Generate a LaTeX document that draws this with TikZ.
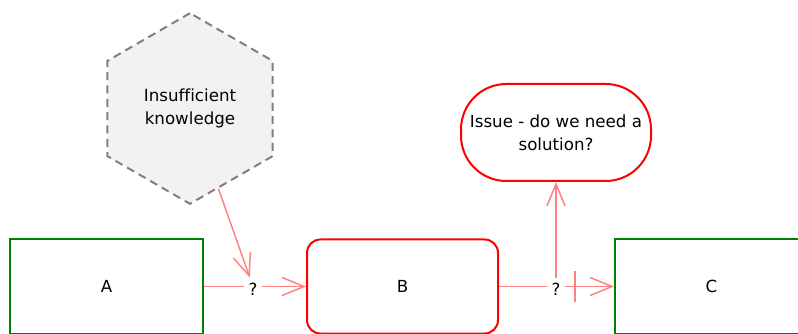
\documentclass[tikz,border=0pt]{standalone}
\usepackage{fontspec}
\setmainfont{DejaVu Sans}[Ligatures=NoCommon]
\usetikzlibrary{arrows.meta,shapes.geometric}

\tikzset{
  box/.style={draw, line width=1.5pt, minimum width=144.75pt, minimum height=70.5pt},
  goodbox/.style={box, draw=green!50!black},
  badbox/.style={box, draw=red, rounded corners=10pt},
  link/.style={draw=red!50, line width=1.1pt},
  barb/.style={link, -{Straight Barb[length=16.5pt,width=13.5pt]}},
  blockbarb/.style={link, -{Bar[width=23pt,line width=1.5pt,sep=10pt]Straight Barb[length=16.5pt,width=13.5pt]}},
  qmark/.style={inner xsep=3pt, inner ysep=0pt, text height=13pt, text depth=0pt}
}

\begin{document}
\begin{tikzpicture}[x=0.75pt, y=-0.75pt, font=\fontsize{12.5}{17.5}\selectfont]
  \useasboundingbox (0,0) rectangle (798,334);
  \clip (0,0) rectangle (798,334);

  \node[goodbox] (A) at (106.5,286.5) {A};
  \node[badbox, minimum width=143.25pt] (B) at (402.5,286.5) {B};
  \node[goodbox] (C) at (711.5,286.5) {C};

  \node[regular polygon, regular polygon sides=6, shape border rotate=30, minimum size=143pt,
        draw=gray, fill=gray!10, dash pattern=on 6pt off 4pt, line width=1.5pt, align=center]
        (gap) at (190,108.5) {Insufficient\\knowledge};
  \node[draw=red, line width=1.5pt, rounded corners=34pt, minimum width=142.5pt,
        minimum height=72.75pt, align=center] (issue) at (556,132.5) {Issue - do we need a\\solution?};

  % junctions on the flow
  \node[qmark] (q1) at (253,286.5) {?};
  \node[qmark] (q2) at (556,286.5) {?};

  \draw[link] (A) -- (q1);
  \draw[barb] (q1) -- (B);
  \draw[barb] (gap) -- (q1);

  \draw[link] (B) -- (q2);
  \draw[blockbarb] (q2) -- (C);
  \draw[barb] (q2) -- (issue);
\end{tikzpicture}
\end{document}
